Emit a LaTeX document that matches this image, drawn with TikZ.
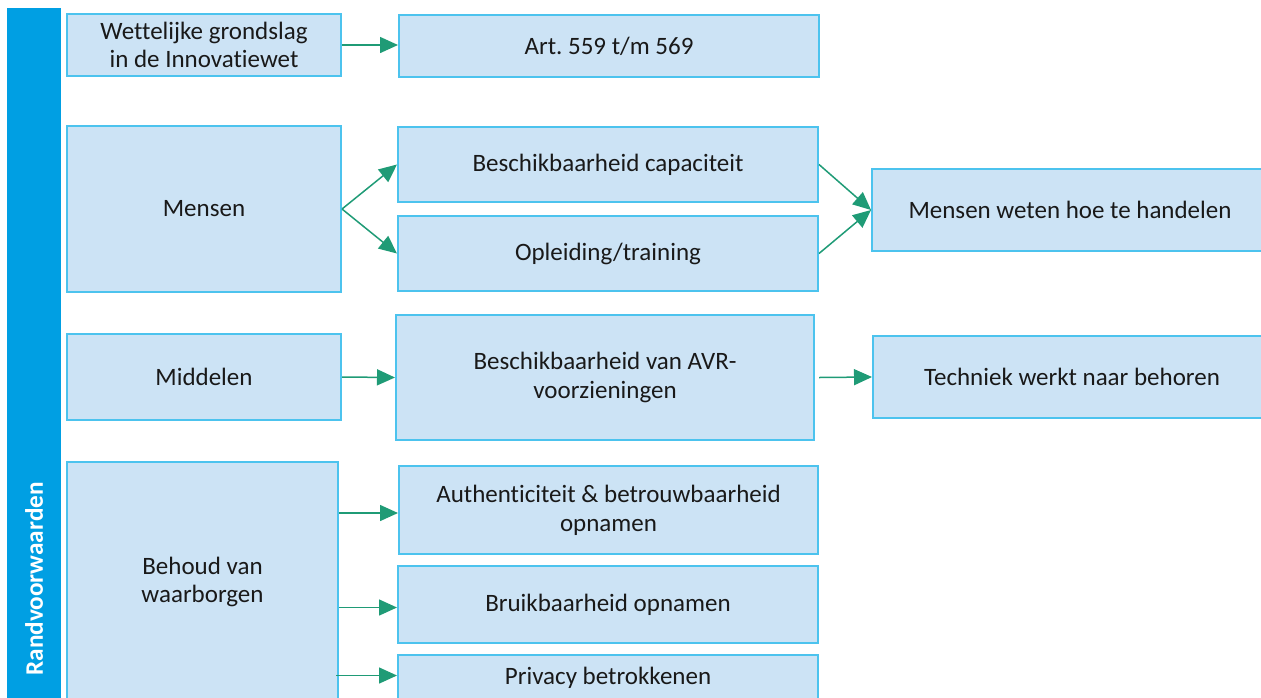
\documentclass[tikz,border=0pt]{standalone}
\usepackage{fontspec}
\setmainfont{Carlito}[Ligatures=NoCommon]
\usetikzlibrary{arrows.meta,calc}
\definecolor{barblue}{HTML}{009FE3}
\definecolor{boxfill}{HTML}{CCE3F5}
\definecolor{boxline}{HTML}{4CC3EE}
\definecolor{arrgreen}{HTML}{1F9B76}

\begin{document}
\begin{tikzpicture}[x=0.5pt, y=-0.5pt,
    box/.style={rectangle, draw=boxline, fill=boxfill, line width=1pt, inner sep=0pt, align=center, text=black!90, font=\fontsize{12.5}{14.4}\selectfont},
    arr/.style={draw=arrgreen, line width=0.75pt, -{Triangle[length=9pt, width=8pt]}}]
    \useasboundingbox (0,0) rectangle (1261,697);

    % side bar
    \node[rectangle, fill=barblue, inner sep=0pt, minimum width=27pt, minimum height=350pt, anchor=north west] (bar) at (7,8) {};
    \node[rotate=90, anchor=west, text=white, inner sep=0pt, font=\fontsize{12.6}{14}\selectfont\bfseries] (randlabel) at (34,676) {Randvoorwaarden};

    % left column
    \node[box, minimum width=137pt, minimum height=31pt] (wet) at (204,45) {Wettelijke grondslag\\in de Innovatiewet};
    \node[box, minimum width=137pt, minimum height=83pt] (mensen) at (204,209) {Mensen};
    \node[box, minimum width=137pt, minimum height=43pt] (middelen) at (204,377) {Middelen};
    \node[box, minimum width=135.5pt, minimum height=120pt] (behoud) at (202.5,582) {Behoud van\\waarborgen};

    % middle column
    \node[box, minimum width=210pt, minimum height=31pt] (art) at (609,46) {Art.\ 559 t/m 569};
    \node[box, minimum width=210pt, minimum height=37.5pt] (bcap) at (608,164.5) {Beschikbaarheid capaciteit};
    \node[box, minimum width=210pt, minimum height=37.5pt] (opl) at (608,253.5) {Opleiding/training};
    \node[box, minimum width=209pt, minimum height=62.5pt] (bavr) at (605,377.5) {Beschikbaarheid van AVR-\\voorzieningen};
    \node[box, minimum width=209.5pt, minimum height=44pt] (auth) at (608.5,510) {Authenticiteit \& betrouwbaarheid\\opnamen};
    \node[box, minimum width=210pt, minimum height=38.5pt] (bruik) at (608,604.5) {Bruikbaarheid opnamen};
    \node[box, minimum width=210pt, minimum height=22.5pt] (priv) at (608,677.5) {Privacy betrokkenen};

    % right column
    \node[box, minimum width=198pt, minimum height=41pt] (mweten) at (1070,210) {Mensen weten hoe te handelen};
    \node[box, minimum width=199pt, minimum height=41pt] (tech) at (1072,377) {Techniek werkt naar behoren};

    % arrows
    \draw[arr] (wet.east) -- (wet.east -| art.west);
    \draw[arr] (mensen.east) -- (bcap.west);
    \draw[arr] (mensen.east) -- (opl.west);
    \draw[arr] (bcap.east) -- (mweten.west);
    \draw[arr] (opl.east) -- (mweten.west);
    \draw[arr] (middelen.east) -- (bavr.west);
    \draw[arr] ($(bavr.east)+(4,0)$) -- (tech.west);
    \draw[arr] ($(auth.west -| behoud.east)+(0,3)$) -- ($(auth.west)+(0,3)$);
    \draw[arr] ($(bruik.west -| behoud.east)+(0,3)$) -- ($(bruik.west)+(0,3)$);
    \draw[arr] ($(priv.west -| behoud.east)+(-3,-2)$) -- ($(priv.west)+(0,-2)$);
\end{tikzpicture}
\end{document}
